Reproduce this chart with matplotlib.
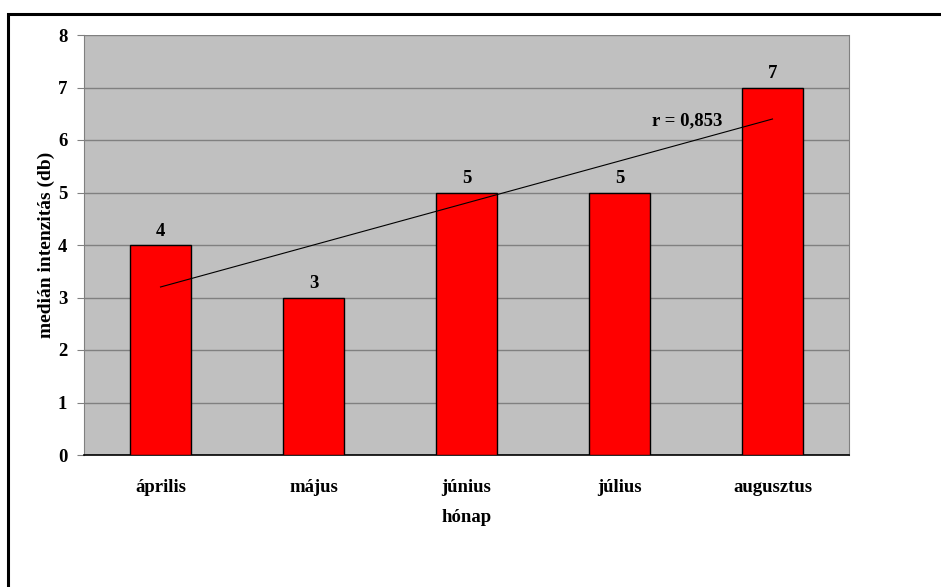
import numpy as np
import matplotlib.pyplot as plt
from matplotlib.patches import Rectangle

months = ['április', 'május', 'június', 'július', 'augusztus']
median_intensity = [4, 3, 5, 5, 7]
r_text = 'r = 0,853'

plt.rcParams['font.family'] = ['Liberation Serif', 'DejaVu Serif']
plt.rcParams['font.weight'] = 'bold'

W, H = 941, 587
fs = 13.5
fig = plt.figure(figsize=(W / 100, H / 100), dpi=100)
ax = fig.add_axes([84 / W, 1 - 455 / H, (849 - 84) / W, (455 - 35) / H])

# outer frame (cut off at right/bottom like the original)
fig.patches.append(Rectangle((7.5 / W, -0.1), 1.2, 1 - 13.5 / H + 0.1,
                             transform=fig.transFigure, fill=False,
                             edgecolor='black', linewidth=2.2, zorder=10))

x = np.arange(len(months))
ax.set_facecolor('#C0C0C0')
ax.bar(x, median_intensity, width=0.4, color='#FF0000', edgecolor='black',
       linewidth=1, zorder=3)
for xi, v in zip(x, median_intensity):
    ax.text(xi, v + 0.1, str(v), ha='center', va='bottom', fontsize=fs,
            fontweight='bold')

# linear trend line
slope, intercept = np.polyfit(x, median_intensity, 1)
ax.plot([x[0], x[-1]], [intercept + slope * x[0], intercept + slope * x[-1]],
        color='black', linewidth=0.8, zorder=4)
ax.text(3.44, 6.2, r_text, ha='center', va='bottom', fontsize=fs,
        fontweight='bold')

ax.set_xlim(-0.5, len(months) - 0.5)
ax.set_ylim(0, 8)
ax.set_yticks(range(0, 9))
ax.yaxis.grid(True, color='#808080', linewidth=1, zorder=0)
ax.set_axisbelow(True)
ax.set_xticks(x)
ax.set_xticklabels(months, fontsize=fs, fontweight='bold')
ax.tick_params(axis='x', length=0, pad=17)
ax.tick_params(axis='y', length=5, color='#808080', labelsize=fs, pad=7)
for lbl in ax.get_yticklabels():
    lbl.set_fontweight('bold')

for s in ['top', 'right', 'left']:
    ax.spines[s].set_color('#808080')
ax.spines['top'].set_visible(False)
ax.spines['bottom'].set_color('black')
ax.spines['bottom'].set_linewidth(1.2)

ax.set_xlabel('hónap', fontsize=fs, fontweight='bold', labelpad=10)
ax.set_ylabel('medián intenzitás (db)', fontsize=fs + 0.5, fontweight='bold',
              labelpad=2)

fig.savefig('out.png', dpi=100)
